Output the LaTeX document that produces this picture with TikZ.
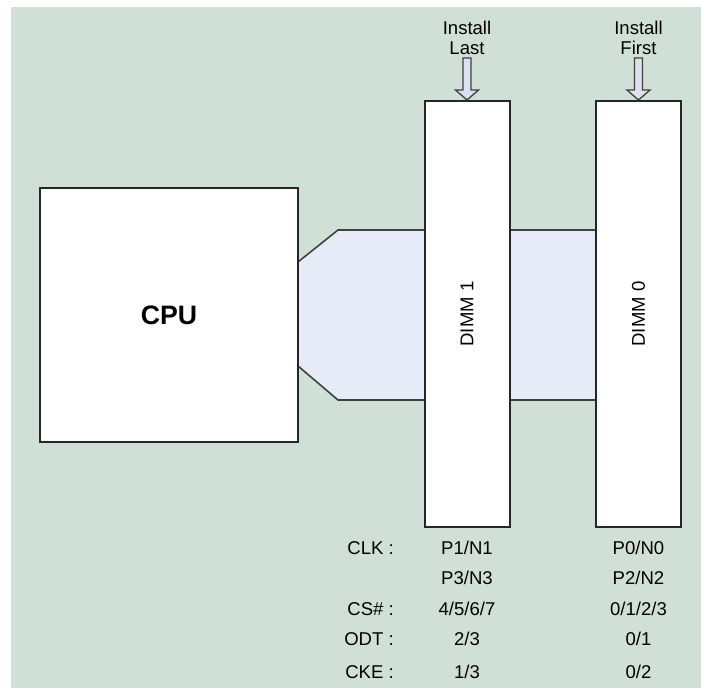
\documentclass[tikz,border=0pt]{standalone}
\usepackage{fontspec}
\setmainfont{Liberation Sans}
\usepackage{tikz}
\usepackage{xcolor}
\usetikzlibrary{positioning}

\definecolor{bggreen}{RGB}{209,224,214}
\definecolor{busblue}{RGB}{229,236,247}
\definecolor{arrowblue}{RGB}{219,225,238}

\begin{document}
\begin{tikzpicture}[x=0.75pt, y=-0.75pt, line join=miter,
  box/.style={draw=black!85, line width=1.5pt, fill=white, inner sep=0pt},
  dimm/.style={box, minimum width=63.75pt, minimum height=319.5pt},
  lbl/.style={font=\fontsize{13.9}{15}\selectfont, text=black, inner sep=0pt},
  blockarrow/.style={draw=black!75, line width=1pt, fill=arrowblue}]
\useasboundingbox (0,0) rectangle (701,688);
\fill[white] (0,0) rectangle (701,688);
\fill[bggreen] (11,7) rectangle (701,688);

\fill[busblue] (298,262) -- (338,230) -- (596,230) -- (596,400) -- (338,400) -- (298,366) -- cycle;
\draw[black!75, line width=1.2pt] (298,262) -- (338,230) -- (596,230);
\draw[black!75, line width=1.2pt] (298,366) -- (338,400) -- (596,400);

\node[box, minimum width=193.5pt, minimum height=190.5pt,
  font=\fontsize{20}{24}\selectfont\bfseries] (cpu) at (169,315) {CPU};
\node[dimm] (d1) at (467,314) {};
\node[dimm] (d0) at (638.5,314) {};
\node[lbl, rotate=90] (d1txt) at (d1) {DIMM 1};
\node[lbl, rotate=90] (d0txt) at (d0) {DIMM 0};

\draw[blockarrow] (d1.north) -- ++(-11.5,-10) -- ++(7.5,0) -- ++(0,-32) -- ++(8,0) -- ++(0,32) -- ++(7.5,0) -- cycle;
\draw[blockarrow] (d0.north) -- ++(-11.5,-10) -- ++(7.5,0) -- ++(0,-32) -- ++(8,0) -- ++(0,32) -- ++(7.5,0) -- cycle;
\node[lbl, align=center] (inst1) at (467,38) {Install\\Last};
\node[lbl, align=center] (inst0) at (638.5,38) {Install\\First};

\node[lbl, anchor=base east] (clk) at (394,555) {CLK :};
\node[lbl, anchor=base east] (cs) at (394,615) {CS\# :};
\node[lbl, anchor=base east] (odt) at (394,645) {ODT :};
\node[lbl, anchor=base east] (cke) at (394,678) {CKE :};

\node[lbl, anchor=base] (clk1a) at (467,555) {P1/N1};
\node[lbl, anchor=base] (clk1b) at (467,585) {P3/N3};
\node[lbl, anchor=base] (cs1) at (467,615) {4/5/6/7};
\node[lbl, anchor=base] (odt1) at (467,645) {2/3};
\node[lbl, anchor=base] (cke1) at (467,678) {1/3};

\node[lbl, anchor=base] (clk0a) at (638.5,555) {P0/N0};
\node[lbl, anchor=base] (clk0b) at (638.5,585) {P2/N2};
\node[lbl, anchor=base] (cs0) at (638.5,615) {0/1/2/3};
\node[lbl, anchor=base] (odt0) at (638.5,645) {0/1};
\node[lbl, anchor=base] (cke0) at (638.5,678) {0/2};
\end{tikzpicture}
\end{document}
